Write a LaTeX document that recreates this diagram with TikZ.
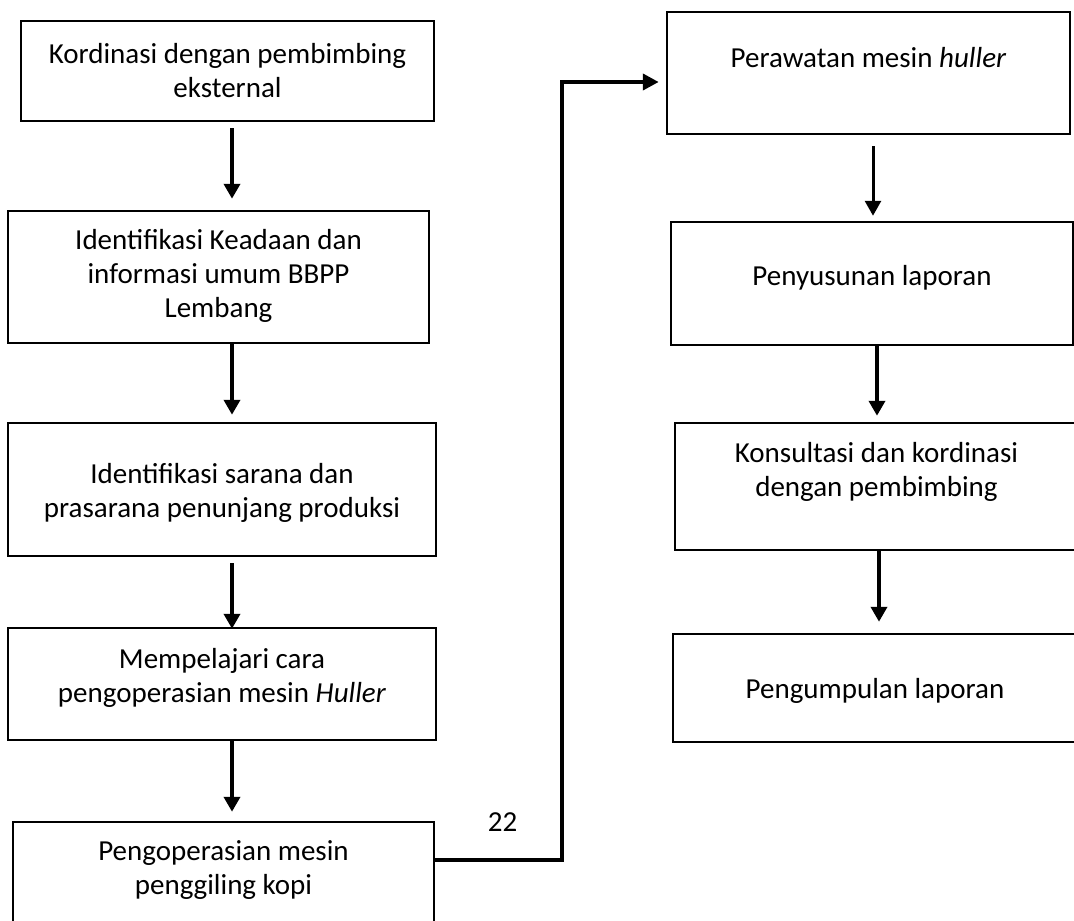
\documentclass[tikz,border=0pt]{standalone}
\usepackage{fontspec}
\setmainfont{Carlito}
\usetikzlibrary{arrows.meta}
\renewcommand{\arraystretch}{1}
\newcommand{\lines}[1]{\begin{tabular}[t]{@{}c@{}}#1\end{tabular}}
\begin{document}
\begin{tikzpicture}[x=1pt,y=-1pt,
  stepbox/.style={draw=black, line width=2.5pt, inner sep=0pt, fill=none},
  txt/.style={anchor=base, inner sep=0pt, font=\fontsize{29}{34}\selectfont},
  arr/.style={line width=3.8pt, -{Triangle[width=16pt,length=15pt]}},
  elbow/.style={line width=4pt, line join=miter, -{Triangle[width=16pt,length=16pt]}}]
\useasboundingbox (0,0) rectangle (1074,921);
\clip (0,0) rectangle (1074,921);

% left column
\node[stepbox, minimum width=413pt, minimum height=100pt] (n1) at (227.5,71) {};
\node[stepbox, minimum width=421pt, minimum height=132pt] (n2) at (218.5,277) {};
\node[stepbox, minimum width=428pt, minimum height=133pt] (n3) at (222,489.5) {};
\node[stepbox, minimum width=428pt, minimum height=112pt] (n4) at (222,684) {};
\node[stepbox, minimum width=421pt, minimum height=113pt] (n5) at (223.5,878.5) {};

% right column
\node[stepbox, minimum width=403pt, minimum height=122pt] (n6) at (868.5,73) {};
\node[stepbox, minimum width=402pt, minimum height=123pt] (n7) at (872,283.5) {};
\node[stepbox, minimum width=403pt, minimum height=127pt] (n8) at (876.5,486.5) {};
\node[stepbox, minimum width=404pt, minimum height=108pt] (n9) at (875,688) {};

% labels
\node[txt] (t1) at (227.5,63) {\lines{Kordinasi dengan pembimbing\\eksternal}};
\node[txt] (t2) at (218.5,249) {\lines{Identifikasi Keadaan dan\\informasi umum BBPP\\Lembang}};
\node[txt] (t3) at (222,483) {\lines{Identifikasi sarana dan\\prasarana penunjang produksi}};
\node[txt] (t4) at (222,668) {\lines{Mempelajari cara\\pengoperasian mesin \textit{Huller}}};
\node[txt] (t5) at (223.5,860) {\lines{Pengoperasian mesin\\penggiling kopi}};
\node[txt] (t6) at (868.5,67) {Perawatan mesin \textit{huller}};
\node[txt] (t7) at (872,285) {Penyusunan laporan};
\node[txt] (t8) at (876.5,462) {\lines{Konsultasi dan kordinasi\\dengan pembimbing}};
\node[txt] (t9) at (875,698) {Pengumpulan laporan};
\node[txt] (pg) at (502.5,831) {22};

% arrow columns
\coordinate (axL) at (232,0);
\coordinate (ax6) at (873,0);
\coordinate (ax7) at (877,0);
\coordinate (ax8) at (879,0);

\draw[arr, shorten <=6pt, shorten >=11pt] (n1.south -| axL) -- (n2.north -| axL);
\draw[arr, shorten >=7pt] (n2.south -| axL) -- (n3.north -| axL);
\draw[arr, shorten <=6pt, shorten >=-2pt] (n3.south -| axL) -- (n4.north -| axL);
\draw[arr, shorten >=9pt] (n4.south -| axL) -- (n5.north -| axL);

\draw[arr, line width=3pt, shorten <=11pt, shorten >=5pt] (n6.south -| ax6) -- (n7.north -| ax6);
\draw[arr, shorten >=6pt] (n7.south -| ax7) -- (n8.north -| ax7);
\draw[arr, shorten >=11pt] (n8.south -| ax8) -- (n9.north -| ax8);

% link from the left column to the right column
\coordinate (e1) at (562,860);
\coordinate (e2) at (562,82);
\draw[elbow, shorten >=7pt] (n5.east |- e1) -- (e1) -- (e2) -- (n6.west |- e2);
\end{tikzpicture}
\end{document}
